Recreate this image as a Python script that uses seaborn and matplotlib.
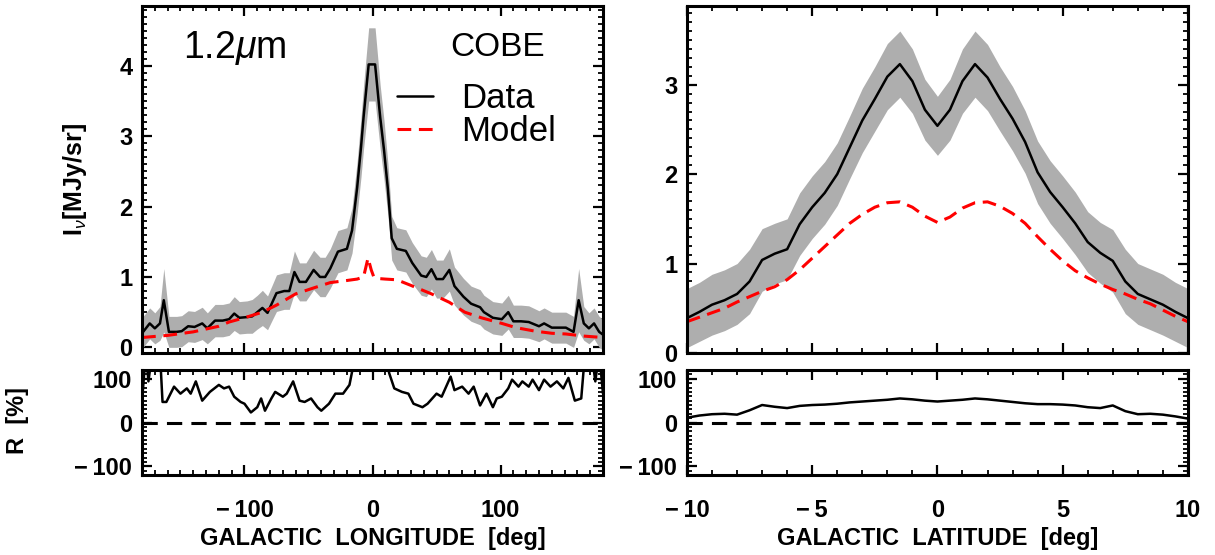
import matplotlib
matplotlib.use('Agg')
import pandas as pd
import matplotlib.pyplot as plt
import seaborn as sns
from matplotlib.ticker import MultipleLocator, FuncFormatter
from matplotlib.lines import Line2D

# ---- longitude profile (COBE 1.2 micron) ----
lon = [-180, -174, -170, -166, -163, -159, -153, -149, -144, -139, -133, -129,
       -123, -117, -112, -108, -104, -98, -94, -90, -86, -82, -78, -75, -69,
       -65, -61, -57, -52, -46, -41, -37, -33, -27, -20, -16, -12, -9, -7, -3,
       2, 6, 9, 12, 15, 19, 26, 31, 38, 42, 46, 50, 55, 60, 64, 71, 77, 84,
       87, 94, 101, 106, 110, 116, 122, 130, 134, 140, 151, 157, 161, 165,
       169, 173, 177, 180]
lon_data = [0.20, 0.34, 0.27, 0.34, 0.67, 0.22, 0.22, 0.23, 0.30, 0.29, 0.34,
            0.27, 0.38, 0.38, 0.40, 0.48, 0.42, 0.43, 0.44, 0.50, 0.56, 0.49,
            0.65, 0.77, 0.80, 0.80, 1.07, 0.93, 0.93, 1.10, 1.00, 1.00, 1.12,
            1.36, 1.40, 1.66, 2.27, 2.84, 3.27, 4.02, 4.02, 3.27, 2.80, 2.25,
            1.55, 1.40, 1.37, 1.20, 1.02, 1.00, 1.11, 0.97, 0.97, 1.10, 0.87,
            0.72, 0.62, 0.57, 0.50, 0.42, 0.40, 0.50, 0.37, 0.37, 0.36, 0.30,
            0.34, 0.28, 0.28, 0.22, 0.67, 0.34, 0.27, 0.34, 0.22, 0.18]
lon_err = [0.22, 0.22, 0.22, 0.24, 0.45, 0.22, 0.22, 0.22, 0.22, 0.22, 0.23,
           0.22, 0.23, 0.23, 0.23, 0.24, 0.23, 0.23, 0.24, 0.24, 0.25, 0.24,
           0.25, 0.26, 0.26, 0.26, 0.30, 0.27, 0.27, 0.28, 0.28, 0.28, 0.28,
           0.30, 0.30, 0.32, 0.37, 0.42, 0.45, 0.52, 0.52, 0.45, 0.42, 0.37,
           0.31, 0.30, 0.30, 0.29, 0.28, 0.28, 0.28, 0.27, 0.27, 0.30, 0.27,
           0.26, 0.25, 0.25, 0.24, 0.23, 0.23, 0.24, 0.23, 0.23, 0.23, 0.22,
           0.22, 0.22, 0.22, 0.22, 0.45, 0.24, 0.22, 0.22, 0.22, 0.22]

lon_mod_x = [-180, -160, -140, -120, -112, -100, -86, -75, -60, -45, -33, -20,
             -12, -7, -3.5, -1, 1, 3, 10, 19, 30, 46, 60, 72, 85, 101, 112,
             127, 140, 151, 165, 180]
lon_model = [0.14, 0.17, 0.22, 0.30, 0.36, 0.42, 0.50, 0.60, 0.76, 0.85, 0.92,
             0.95, 0.97, 1.00, 1.27, 1.10, 1.00, 0.98, 0.97, 0.96, 0.88, 0.76,
             0.64, 0.50, 0.42, 0.34, 0.28, 0.23, 0.20, 0.19, 0.16, 0.14]

lon_res_x = [-180, -177, -175, -172, -166, -164, -161, -155, -150, -145, -142,
             -138, -133, -127, -120, -116, -112, -108, -103, -100, -95, -90,
             -87, -84, -79, -76, -70, -67, -62, -57, -53, -48, -43, -40, -34,
             -29, -23, -18, -13, 10, 13, 17, 23, 28, 32, 39, 43, 50, 54, 61,
             64, 70, 75, 79, 84, 89, 94, 97, 101, 106, 109, 114, 117, 122, 125,
             130, 134, 139, 144, 149, 153, 158, 163, 166, 171, 174, 177, 180]
lon_res = [50, 160, 94, 160, 160, 47, 47, 82, 66, 78, 66, 94, 50, 70, 86, 78,
           82, 59, 47, 43, 23, 35, 55, 27, 55, 70, 59, 66, 94, 50, 47, 55, 35,
           27, 43, 66, 66, 86, 160, 160, 113, 78, 70, 66, 43, 35, 43, 66, 59,
           105, 74, 82, 66, 82, 39, 66, 35, 55, 59, 78, 98, 82, 94, 82, 98, 74,
           98, 82, 94, 78, 102, 50, 55, 160, 160, 94, 160, 66]

# ---- latitude profile ----
lat = [-10, -9.5, -9, -8.5, -8, -7.5, -7, -6.5, -6, -5.5, -5, -4.5, -4, -3.5,
       -3, -2.5, -2, -1.5, -1, -0.5, 0, 0.5, 1, 1.5, 2, 2.5, 3, 3.5, 4, 4.5,
       5, 5.5, 6, 6.5, 7, 7.5, 8, 8.5, 9, 9.5, 10]
lat_data = [0.39, 0.46, 0.54, 0.59, 0.66, 0.80, 1.04, 1.11, 1.16, 1.44, 1.63,
            1.79, 2.00, 2.30, 2.60, 2.84, 3.09, 3.23, 3.04, 2.72, 2.54, 2.72,
            3.04, 3.23, 3.08, 2.84, 2.62, 2.36, 2.02, 1.80, 1.63, 1.45, 1.24,
            1.12, 1.03, 0.80, 0.66, 0.60, 0.54, 0.46, 0.39]
lat_err = [0.33, 0.33, 0.34, 0.34, 0.34, 0.36, 0.35, 0.34, 0.34, 0.35, 0.35,
           0.35, 0.35, 0.35, 0.36, 0.36, 0.37, 0.37, 0.36, 0.34, 0.33, 0.34,
           0.36, 0.37, 0.37, 0.36, 0.36, 0.35, 0.35, 0.35, 0.35, 0.35, 0.34,
           0.34, 0.35, 0.36, 0.34, 0.34, 0.34, 0.33, 0.33]
lat_model = [0.35, 0.40, 0.45, 0.50, 0.57, 0.63, 0.69, 0.74, 0.82, 0.93, 1.06,
             1.19, 1.32, 1.45, 1.55, 1.63, 1.68, 1.69, 1.63, 1.53, 1.46, 1.52,
             1.62, 1.68, 1.69, 1.64, 1.56, 1.45, 1.30, 1.16, 1.03, 0.92, 0.84,
             0.77, 0.71, 0.66, 0.60, 0.55, 0.48, 0.41, 0.35]
lat_res = [11, 16, 19, 20, 18, 28, 40, 36, 33, 38, 40, 41, 43, 46, 48, 50, 52,
           55, 53, 50, 48, 50, 52, 55, 53, 50, 47, 44, 42, 42, 41, 39, 35, 33,
           39, 26, 19, 20, 18, 14, 9]

df_lon = pd.DataFrame({'l': lon, 'I': lon_data, 'err': lon_err})
df_lon['lo'] = df_lon['I'] - df_lon['err']
df_lon['hi'] = df_lon['I'] + df_lon['err']
df_lat = pd.DataFrame({'b': lat, 'I': lat_data, 'err': lat_err,
                       'model': lat_model, 'R': lat_res})
df_lat['lo'] = df_lat['I'] - df_lat['err']
df_lat['hi'] = df_lat['I'] + df_lat['err']

sns.set_style('ticks')
plt.rcParams['font.family'] = ['Liberation Sans', 'DejaVu Sans']
plt.rcParams['mathtext.fontset'] = 'custom'
plt.rcParams['mathtext.rm'] = 'Liberation Sans'
plt.rcParams['mathtext.it'] = 'Liberation Sans:italic'
plt.rcParams['mathtext.bf'] = 'Liberation Sans:bold'
for key in ('text.color', 'axes.labelcolor', 'xtick.color', 'ytick.color',
            'axes.edgecolor'):
    plt.rcParams[key] = 'black'


def idl_fmt(v, pos):
    # IDL style: wide minus sign followed by a small gap
    s = f'{abs(v):g}'
    return '\u2212\u2009' + s if v < 0 else s


fig = plt.figure(figsize=(12.15, 5.55), dpi=100)
ax1 = fig.add_axes([0.1169, 0.3640, 0.3794, 0.6252])
ax2 = fig.add_axes([0.1169, 0.1441, 0.3794, 0.1892])
ax3 = fig.add_axes([0.5654, 0.3640, 0.4123, 0.6252])
ax4 = fig.add_axes([0.5654, 0.1441, 0.4123, 0.1892])

band = '#aeaeae'
red_dash = (0, (4.5, 2.5))
lab = dict(fontsize=17, fontweight='bold')

# top left
ax1.fill_between(df_lon['l'], df_lon['lo'], df_lon['hi'], color=band, lw=0)
sns.lineplot(x='l', y='I', data=df_lon, ax=ax1, color='k', lw=1.8)
sns.lineplot(x=lon_mod_x, y=lon_model, ax=ax1, color='red', lw=2.2,
             linestyle=red_dash)
ax1.set_xlim(-180, 180)
ax1.set_ylim(-0.08, 4.85)
ax1.text(0.088, 0.88, r'1.2$\mu$m', transform=ax1.transAxes, fontsize=27,
         va='center')
ax1.text(0.668, 0.88, 'COBE', transform=ax1.transAxes, fontsize=24,
         va='center')
handles = [Line2D([], [], color='k', lw=1.8),
           Line2D([], [], color='red', lw=2.2, linestyle=red_dash)]
ax1.legend(handles, ['Data', 'Model'], loc='upper left',
           bbox_to_anchor=(0.553, 0.78), frameon=False, fontsize=25,
           handlelength=1.05, handletextpad=0.8, labelspacing=0.0,
           borderpad=0, borderaxespad=0)
ax1.set_ylabel(r'$\mathbf{I}_{\nu}$[MJy/sr]', fontsize=18, fontweight='bold')
ax1.yaxis.set_label_coords(-0.115, 0.5)

# bottom left
sns.lineplot(x=lon_res_x, y=lon_res, ax=ax2, color='k', lw=1.8)
ax2.axhline(0, color='k', lw=2.2, linestyle=(0, (5, 3)))
ax2.set_xlim(-180, 180)
ax2.set_ylim(-120, 120)
ax2.set_xlabel('GALACTIC  LONGITUDE  [deg]', labelpad=4, **lab)
ax2.set_ylabel('R  [%]', **lab)
ax2.yaxis.set_label_coords(-0.245, 0.52)

# top right
ax3.fill_between(df_lat['b'], df_lat['lo'], df_lat['hi'], color=band, lw=0)
sns.lineplot(x='b', y='I', data=df_lat, ax=ax3, color='k', lw=1.8)
sns.lineplot(x='b', y='model', data=df_lat, ax=ax3, color='red', lw=2.2,
             linestyle=red_dash)
ax3.set_xlim(-10, 10)
ax3.set_ylim(0, 3.88)

# bottom right
sns.lineplot(x='b', y='R', data=df_lat, ax=ax4, color='k', lw=1.8)
ax4.axhline(0, color='k', lw=2.2, linestyle=(0, (5, 3)))
ax4.set_xlim(-10, 10)
ax4.set_ylim(-120, 120)
ax4.set_xlabel('GALACTIC  LATITUDE  [deg]', labelpad=4, **lab)

for ax in (ax1, ax2, ax3, ax4):
    ax.tick_params(which='both', direction='in', top=True, right=True,
                   labelsize=17)
    ax.tick_params(which='major', length=7, width=1.6)
    ax.tick_params(which='minor', length=3.5, width=1.3)
    ax.tick_params(axis='x', pad=17)
    ax.tick_params(axis='y', pad=7)
    for s in ax.spines.values():
        s.set_linewidth(2.2)

for ax in (ax1, ax3):
    ax.tick_params(labelbottom=False)
    ax.set_xlabel('')
    ax.yaxis.set_major_locator(MultipleLocator(1))
    ax.yaxis.set_minor_locator(MultipleLocator(0.1))
for ax in (ax2, ax4):
    ax.yaxis.set_major_locator(MultipleLocator(100))
    ax.yaxis.set_minor_locator(MultipleLocator(10))
for ax in (ax1, ax2):
    ax.xaxis.set_major_locator(MultipleLocator(100))
    ax.xaxis.set_minor_locator(MultipleLocator(10))
for ax in (ax3, ax4):
    ax.xaxis.set_major_locator(MultipleLocator(5))
    ax.xaxis.set_minor_locator(MultipleLocator(1))
    ax.set_ylabel('')

for ax in (ax1, ax2, ax3, ax4):
    ax.xaxis.set_major_formatter(FuncFormatter(idl_fmt))
    ax.yaxis.set_major_formatter(FuncFormatter(idl_fmt))
    for t in ax.get_xticklabels() + ax.get_yticklabels():
        t.set_fontweight('bold')

fig.savefig('out.png', dpi=100)
